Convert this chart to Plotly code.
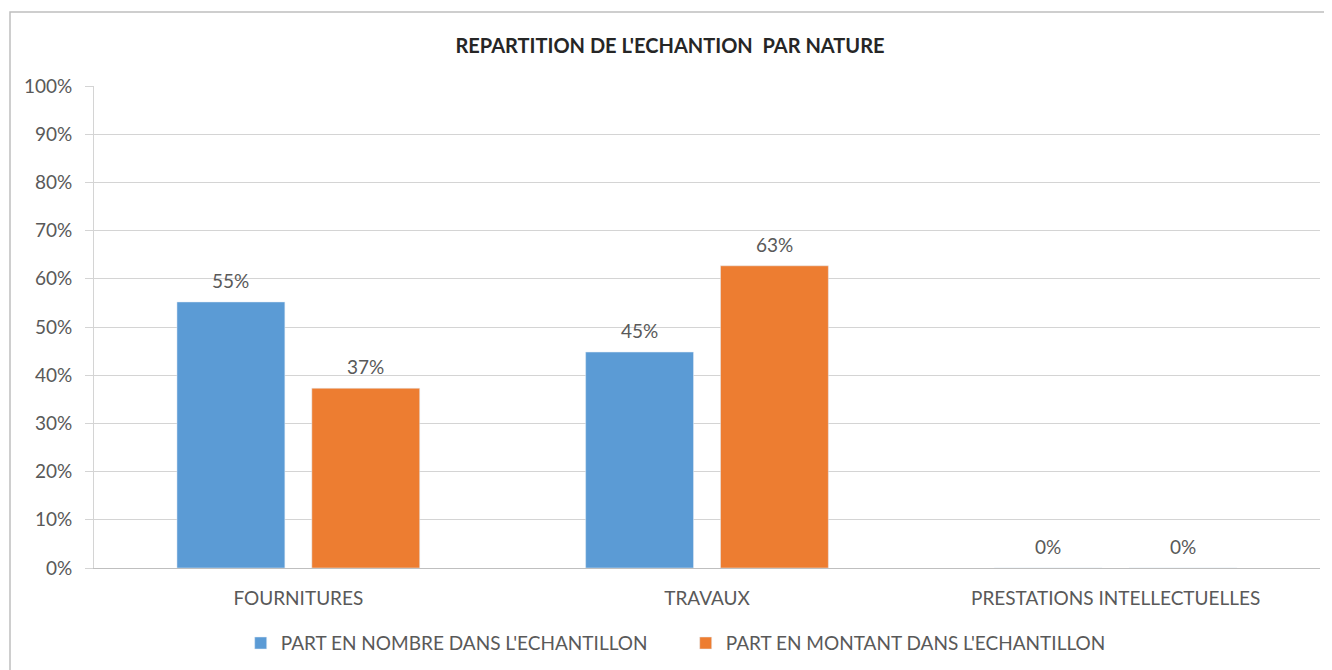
import plotly.graph_objects as go

# données
categories = ['FOURNITURES', 'TRAVAUX', 'PRESTATIONS INTELLECTUELLES']
part_nombre = [0.552, 0.448, 0.0]
part_montant = [0.373, 0.627, 0.0]
y_ticks = [0, 0.1, 0.2, 0.3, 0.4, 0.5, 0.6, 0.7, 0.8, 0.9, 1.0]

gris_texte = '#595959'
police = 'Lato'
bargap = 0.34

fig = go.Figure()

fig.add_trace(go.Bar(
    x=categories,
    y=part_nombre,
    name="PART EN NOMBRE DANS L'ECHANTILLON",
    marker_color='#5B9BD5',
))

fig.add_trace(go.Bar(
    x=categories,
    y=part_montant,
    name="PART EN MONTANT DANS L'ECHANTILLON",
    marker_color='#ED7D31',
))

# étiquettes de valeurs au-dessus des barres (décalées comme dans Excel)
demi = (1 - bargap) / 4
for decal, serie in [(-demi, part_nombre), (demi, part_montant)]:
    for i, v in enumerate(serie):
        fig.add_annotation(
            x=i + decal, y=v, xref='x', yref='y',
            text=f'{v:.0%}', showarrow=False,
            yanchor='bottom', yshift=8,
            font=dict(size=19, color=gris_texte),
        )

fig.update_layout(
    width=1332,
    height=670,
    margin=dict(l=86, r=20, t=78, b=110),
    paper_bgcolor='white',
    plot_bgcolor='white',
    font=dict(family=police, size=19, color=gris_texte),
    title=dict(
        text="<b>REPARTITION DE L'ECHANTION  PAR NATURE</b>",
        x=0.497, xref='container', xanchor='center',
        y=0.943, yref='container', yanchor='middle',
        font=dict(family=police, size=20, color='#262626'),
    ),
    barmode='group',
    bargap=bargap,
    bargroupgap=0.2,
    showlegend=True,
    legend=dict(
        orientation='h',
        x=0.1747, xref='container', xanchor='left',
        y=0.052, yref='container', yanchor='middle',
        font=dict(size=19, color=gris_texte),
        itemwidth=30,
        entrywidth=400,
        traceorder='normal',
    ),
)

fig.update_yaxes(
    range=[0, 1],
    tickvals=y_ticks,
    tickformat='.0%',
    showgrid=True,
    gridcolor='#D4D4D4',
    gridwidth=1,
    showline=True,
    linecolor='#D4D4D4',
    ticks='outside',
    ticklen=8,
    tickcolor='#D4D4D4',
    ticklabelstandoff=9,
    zeroline=False,
    tickfont=dict(size=19, color=gris_texte),
)

fig.update_xaxes(
    showline=True,
    linecolor='#BFBFBF',
    linewidth=1,
    ticks='',
    ticklabelstandoff=13,
    tickfont=dict(size=19, color=gris_texte),
)

# cadre du graphique
fig.add_shape(
    type='rect', xref='paper', yref='paper',
    x0=(2 - 86) / 1226, x1=(1345 - 86) / 1226,
    y0=(560 - 690) / 482, y1=(560 - 4) / 482,
    line=dict(color='#BFBFBF', width=1.5),
    fillcolor='rgba(0,0,0,0)',
    layer='below',
)

fig.write_html('out.html')
